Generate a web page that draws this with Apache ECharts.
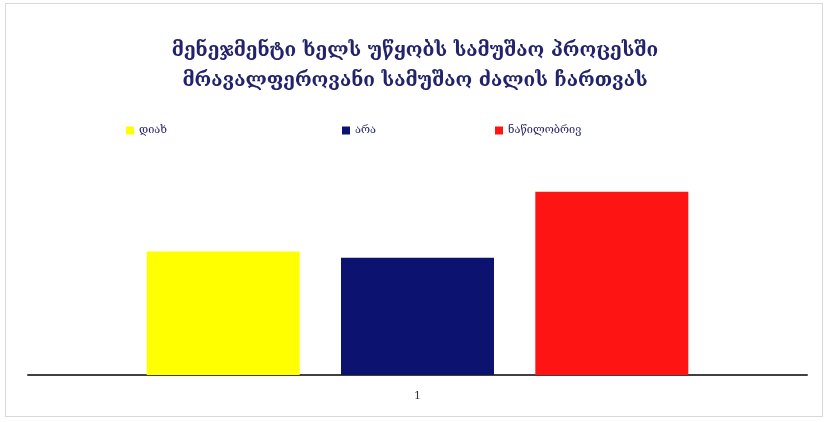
<!DOCTYPE html>
<html>
<head>
<meta charset="utf-8">
<script src="https://cdn.jsdelivr.net/npm/echarts@6/dist/echarts.min.js"></script>
<style>
  html, body { margin: 0; padding: 0; background: #ffffff; }
  #frame { position: absolute; left: 5px; top: 3px; width: 818px; height: 414px; border: 1px solid #d9d9d9; box-sizing: border-box; }
  #chart { width: 830px; height: 422px; position: absolute; left: 0; top: 0; }
</style>
</head>
<body>
<div id="frame"></div>
<div id="chart"></div>
<script>
// Survey answers: "management supports involving a diverse workforce"
const titleLines = ['მენეჯმენტი ხელს უწყობს სამუშაო პროცესში', 'მრავალფეროვანი სამუშაო ძალის ჩართვას'];
const categories = ['1'];
const seriesNames = ['დიახ', 'არა', 'ნაწილობრივ'];
const seriesValues = [[29], [27.5], [43]];
const seriesColors = ['#ffff00', '#0c1270', '#ff1414'];

const FONT = '"DejaVu Serif", "DejaVu Sans", serif';
const TEXT_COLOR = '#23236b';

const chart = echarts.init(document.getElementById('chart'), null, { renderer: 'canvas' });

const legendLefts = [121, 337, 490];

chart.setOption({
  animation: false,
  title: {
    text: titleLines.join('\n'),
    left: 'center',
    top: 31,
    textStyle: { fontFamily: FONT, fontSize: 19, fontWeight: 'bold', color: TEXT_COLOR, lineHeight: 30 }
  },
  legend: seriesNames.map((name, i) => ({
    data: [name],
    left: legendLefts[i],
    top: 120,
    icon: 'rect',
    itemWidth: 8,
    itemHeight: 8,
    itemGap: 5,
    textStyle: { fontFamily: FONT, fontSize: 11, color: TEXT_COLOR }
  })),
  grid: { left: 28, right: 23, top: 162, bottom: 47 },
  xAxis: {
    type: 'category',
    data: categories,
    axisLine: { lineStyle: { color: '#404040', width: 2 } },
    axisTick: { show: false },
    axisLabel: { fontFamily: FONT, fontSize: 11, color: '#333333', margin: 16 }
  },
  yAxis: {
    type: 'value',
    min: 0,
    max: 50,
    show: false,
    splitLine: { show: false }
  },
  series: seriesNames.map((name, i) => ({
    name: name,
    type: 'bar',
    data: seriesValues[i],
    barWidth: 153,
    barGap: '27%',
    itemStyle: { color: seriesColors[i] }
  }))
});
</script>
</body>
</html>
